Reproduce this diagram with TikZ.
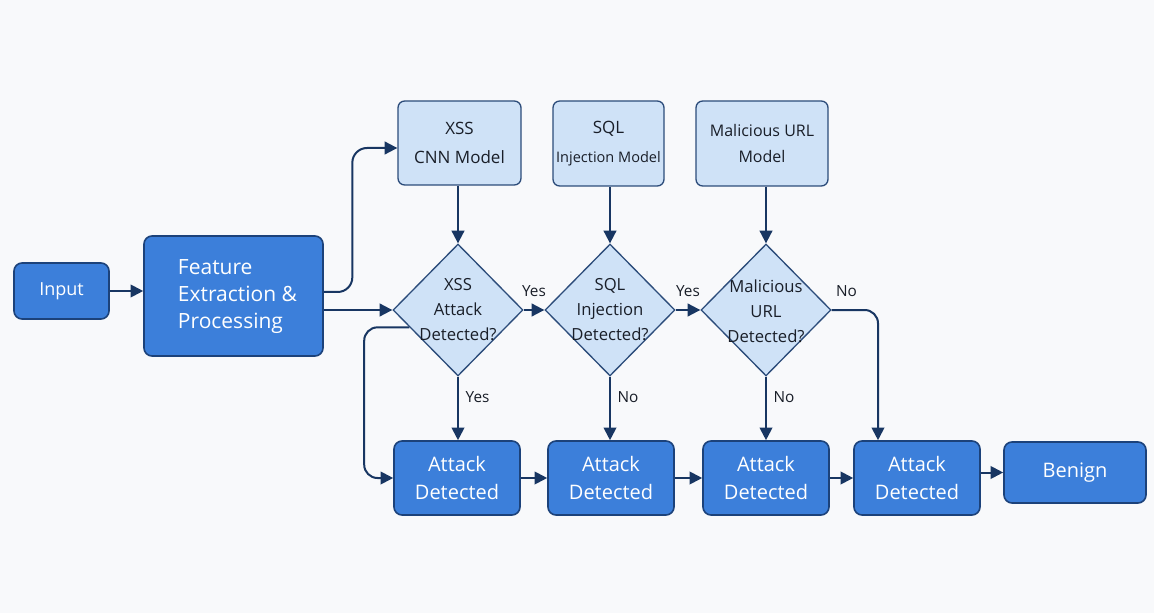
\documentclass[tikz,border=0pt]{standalone}
\usepackage{fontspec}
\setmainfont{Open Sans}
\usetikzlibrary{shapes.geometric,arrows.meta,calc}
\definecolor{bg}{RGB}{248,249,251}
\definecolor{darkfill}{RGB}{60,127,218}
\definecolor{darkedge}{RGB}{28,66,122}
\definecolor{lightfill}{RGB}{207,226,247}
\definecolor{lightedge}{RGB}{44,76,122}
\definecolor{wire}{RGB}{24,54,98}
\definecolor{ink}{RGB}{25,30,40}

\begin{document}
\begin{tikzpicture}[x=0.75pt,y=-0.75pt,
  darkbox/.style={draw=darkedge, line width=1.2pt, fill=darkfill, rounded corners=6pt,
    text=white, align=center, inner sep=0pt},
  lightbox/.style={draw=lightedge, line width=1pt, fill=lightfill, rounded corners=5pt,
    text=ink, align=center, inner sep=0pt},
  decision/.style={diamond, draw=lightedge, line width=1pt, fill=lightfill, inner sep=0pt,
    minimum width=97.5pt, minimum height=99pt},
  dtext/.style={text=ink, align=center, font=\fontsize{12.5}{18.75}\selectfont},
  arr/.style={draw=wire, line width=1.5pt, -{Triangle[length=9.5pt,width=9.5pt]}},
  lbl/.style={text=ink, font=\fontsize{11.5}{13}\selectfont, inner sep=3pt}
]
% canvas
\fill[bg] (0,0) rectangle (1154,613);
\useasboundingbox (0,0) rectangle (1154,613);

% input and preprocessing
\node[darkbox, minimum width=71.25pt, minimum height=42pt,
  font=\fontsize{13.5}{16}\selectfont] (in) at (61.5,291) {Input};
\node[darkbox, minimum width=134.25pt, minimum height=90pt,
  font=\fontsize{15.75}{21}\selectfont] (feat) at (233.5,296)
  {\hspace*{6pt}\begin{tabular}{@{}l@{}}Feature\\[-1pt]Extraction \&\\[-1pt]Processing\end{tabular}};

% models
\node[lightbox, minimum width=92.25pt, minimum height=63pt,
  font=\fontsize{12.75}{22}\selectfont] (xss) at (459.5,143) {XSS\\CNN Model};
\node[lightbox, minimum width=83.25pt, minimum height=63.75pt,
  font=\fontsize{12.75}{22}\selectfont] (sql) at (608.5,143.5)
  {SQL\\{\fontsize{10.9}{22}\selectfont Injection Model}};
\node[lightbox, minimum width=99pt, minimum height=63.75pt,
  font=\fontsize{12}{20}\selectfont] (mal) at (762,143.5) {Malicious URL\\Model};

% decisions
\node[decision] (d1) at (458,310) {};
\node[decision] (d2) at (610,310) {};
\node[decision] (d3) at (766,310) {};
\node[dtext] (t1) at (d1) {XSS\\Attack\\Detected?};
\node[dtext] (t2) at (d2) {SQL\\Injection\\Detected?};
\node[dtext] (t3) at ([yshift=-1pt]d3) {Malicious\\URL\\Detected?};

% outcomes
\tikzset{outbox/.style={darkbox, minimum width=94.5pt, minimum height=55.5pt,
  font=\fontsize{15}{21}\selectfont}}
\node[outbox] (b1) at (457,478) {Attack\\Detected};
\node[outbox] (b2) at (611,478) {Attack\\Detected};
\node[outbox] (b3) at (766,478) {Attack\\Detected};
\node[outbox] (b4) at (917,478) {Attack\\Detected};
\node[darkbox, minimum width=106.5pt, minimum height=45.75pt,
  font=\fontsize{15}{18}\selectfont] (ben) at (1075,472.5) {Benign};

% connectors
\draw[arr] (in.east) -- (feat.west |- in.east);
\draw[arr, rounded corners=11pt] ([yshift=3pt]feat.east)
  -| ([xshift=-33.75pt,yshift=-3.75pt]xss.west) -- ([yshift=-3.75pt]xss.west);
\draw[arr] (feat.east |- d1.west) -- (d1.west);
\draw[arr, rounded corners=10pt] ($(d1.west)!0.26!(d1.south)$)
  -| ([xshift=-21.75pt]b1.west) -- (b1.west);

\draw[arr] (xss.south -| d1.north) -- (d1.north);
\draw[arr] (sql.south -| d2.north) -- (d2.north);
\draw[arr] (mal.south -| d3.north) -- (d3.north);

\draw[arr] (d1.east) -- node[lbl, above, yshift=6.5pt] {Yes} (d2.west);
\draw[arr] (d2.east) -- node[lbl, above, yshift=6.5pt] {Yes} (d3.west);
\draw[arr, rounded corners=10pt] (d3.east)
  -| node[lbl, above, pos=0.16, yshift=6.5pt] {No} ([xshift=-29.25pt]b4.north);

\draw[arr] (d1.south) -- node[lbl, right, pos=0.32, xshift=2pt] {Yes} (d1.south |- b1.north);
\draw[arr] (d2.south) -- node[lbl, right, pos=0.32, xshift=2pt] {No} (d2.south |- b2.north);
\draw[arr] (d3.south) -- node[lbl, right, pos=0.32, xshift=2pt] {No} (d3.south |- b3.north);

\draw[arr] (b1.east) -- (b2.west);
\draw[arr] (b2.east) -- (b3.west);
\draw[arr] (b3.east) -- (b4.west);
\draw[arr] (b4.east |- ben.west) -- (ben.west);
\end{tikzpicture}
\end{document}
